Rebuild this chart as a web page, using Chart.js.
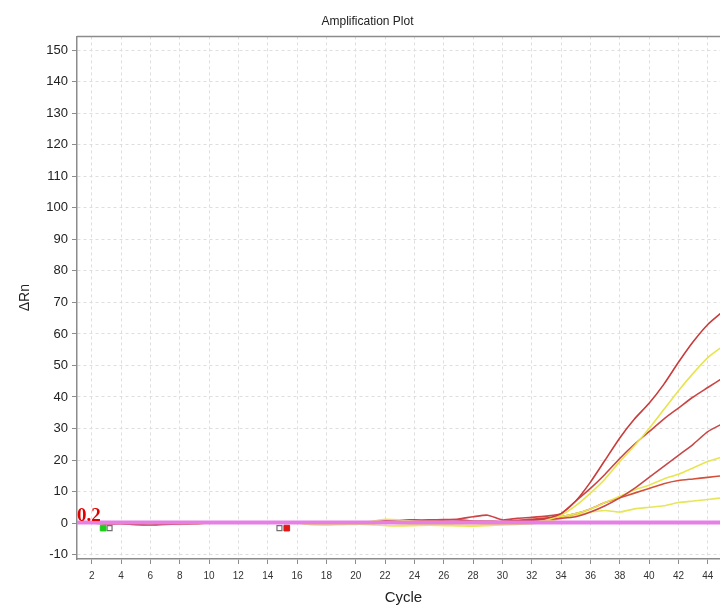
<!DOCTYPE html>
<html>
<head>
<meta charset="utf-8">
<title>Amplification Plot</title>
<script src="https://cdn.jsdelivr.net/npm/chart.js@4.4.1/dist/chart.umd.min.js"></script>
<style>
  html, body { margin: 0; padding: 0; background: #fff; overflow: hidden; }
  #wrap { width: 735px; height: 605px; }
</style>
</head>
<body>
<div id="wrap"><canvas id="ampChart" width="735" height="605"></canvas></div>
<script>
// Cycle numbers (x) and the delta Rn curves
const cycles = [1,2,3,4,5,6,7,8,9,10,11,12,13,14,15,16,17,18,19,20,21,22,23,24,25,26,27,28,29,30,31,32,33,34,35,36,37,38,39,40,41,42,43,44,45];

const redTop = [0,0,-0.3,-0.2,-0.5,-0.6,-0.4,-0.3,-0.2,0,0,0,0,0,0,0,0,0,0,0.1,0.2,0.3,0.3,0.2,0.2,0.3,0.3,0.4,0.5,0.4,0.6,0.9,1.5,3,7,13,20,27,33,38,44,51,57.5,63,67];
const yellowTop = [0,0,0,0,0,-0.2,-0.3,-0.4,-0.3,0,0,0,0,0,0,0,-0.3,-0.5,-0.3,0,0.5,1.2,1,0.6,0.5,0.4,0.2,0,-0.2,-0.3,-0.2,0.2,1,2.5,5.5,9.5,14,19.5,24.5,30,36,42,47.5,52.5,56];
const redMid = [0,0,0,0,0,0,0,0,0,0,0,0,0,0,0,0,0,0,0,0.2,0.4,0.8,1,1,1,1.1,1.3,2,2.5,1,1.5,1.8,2.2,3,7,11,15.5,20.5,25,29,33,36.5,40,43,46];
const redLow = [0,0,0,0,0,0,0,0,0,0,0,0,0,0,0,0,0,0,0,0,0,0.2,0.3,0.3,0.4,0.5,0.5,0.6,0.6,0.5,0.8,1,1.2,1.5,2,3.5,5.5,8,11,14.5,18,21.5,25,29,31.5];
const yellowMid = [0,0,0,-0.2,-0.3,-0.3,-0.2,-0.2,0,0,0,0,0,0,0,0,-0.5,-0.6,-0.5,-0.4,-0.2,0,-0.2,-0.4,-0.5,-0.5,-0.6,-0.7,-0.5,-0.4,-0.3,0.2,1,2,3,4.5,6.5,8.5,10.5,12,14,15.5,17.5,19.5,21];
const orangeLow = [0,0,0,0,0,0,0,0,0,0,0,0,0,0,0,0,0,0,0,0,0,0.2,0.4,0.6,0.8,1,1,0.6,0.2,0.4,0.8,1.2,1.6,2,3,4.5,6.5,8,9.5,11,12.5,13.5,14,14.5,15];
const yellowLow = [0,0,0,0,0,0,0,0,0,0,0,0,0,0,0,0,0,0,0,-0.3,-0.5,-0.8,-0.9,-0.8,-0.7,-0.8,-0.9,-1,-0.8,-0.6,-0.4,-0.2,0.5,1.5,2.5,3.5,4,3.5,4.5,5,5.5,6.5,7,7.5,8];

// Threshold and baseline start / end markers
const threshold = 0.2;
const baselineStart = [2.78, 3.22];
const baselineEnd = [14.8, 15.3];
const markerLevel = -1.6;

// Tick labels
const xTicks = [2,4,6,8,10,12,14,16,18,20,22,24,26,28,30,32,34,36,38,40,42,44];
const yTicks = [-10,0,10,20,30,40,50,60,70,80,90,100,110,120,130,140,150];

const seriesList = [
    { name: 'A1', values: redTop, color: '#c83c3c' },
    { name: 'A2', values: yellowTop, color: '#e8e44c' },
    { name: 'A3', values: redMid, color: '#cc4444' },
    { name: 'A4', values: redLow, color: '#c84848' },
    { name: 'A5', values: yellowMid, color: '#e8e650' },
    { name: 'A6', values: orangeLow, color: '#d4503a' },
    { name: 'A7', values: yellowLow, color: '#e6e65a' },
];

function toPoints(values) {
    return values.map((v, i) => ({ x: cycles[i], y: v }));
}

// Builds the datasets for the curves, the threshold and the markers
function buildDatasets() {
    const sets = seriesList.map(s => ({
        label: s.name,
        data: toPoints(s.values),
        borderColor: s.color,
        borderWidth: 1.6,
        pointRadius: 0,
        tension: 0.2,
        order: 2,
    }));
    sets.push({
        label: 'Threshold',
        data: [{ x: 1, y: threshold }, { x: 45.5, y: threshold }],
        borderColor: '#e680e6',
        borderWidth: 4,
        pointRadius: 0,
        order: 1,
    });
    sets.push({
        label: 'start',
        type: 'scatter',
        data: [{ x: baselineStart[0], y: markerLevel }],
        pointStyle: 'rect',
        pointRadius: 4,
        backgroundColor: '#1ccc1c',
        borderColor: '#1ccc1c',
        borderWidth: 1,
        order: 0,
    });
    sets.push({
        label: 'end',
        type: 'scatter',
        data: [{ x: baselineEnd[1], y: markerLevel }],
        pointStyle: 'rect',
        pointRadius: 4,
        backgroundColor: '#e01818',
        borderColor: '#e01818',
        borderWidth: 1,
        order: 0,
    });
    sets.push({
        label: 'boxes',
        type: 'scatter',
        data: [{ x: baselineStart[1], y: markerLevel }, { x: baselineEnd[0], y: markerLevel }],
        pointStyle: 'rect',
        pointRadius: 3.5,
        backgroundColor: '#ffffff',
        borderColor: '#707070',
        borderWidth: 1.2,
        order: 0,
    });
    return sets;
}

// Draws the frame on top of the plot and the red threshold value
const plotExtras = {
    id: 'plotExtras',
    afterDatasetsDraw(chart) {
        const ctx = chart.ctx;
        const area = chart.chartArea;
        const x = chart.scales.x;
        const y = chart.scales.y;
        ctx.save();
        ctx.strokeStyle = '#8c8c8c';
        ctx.lineWidth = 1.5;
        ctx.beginPath();
        ctx.moveTo(area.left, area.top);
        ctx.lineTo(area.right, area.top);
        ctx.stroke();
        ctx.fillStyle = '#e00000';
        ctx.font = 'bold 19px "Liberation Serif", "DejaVu Serif", serif';
        ctx.textAlign = 'left';
        ctx.textBaseline = 'alphabetic';
        ctx.fillText(String(threshold), x.getPixelForValue(1), y.getPixelForValue(threshold) - 1);
        ctx.restore();
    }
};

const gridStyle = {
    color: '#dedede',
    lineWidth: 1,
    tickColor: '#8c8c8c',
    tickLength: 5,
    tickBorderDash: [],
};

new Chart(document.getElementById('ampChart'), {
    type: 'line',
    data: { datasets: buildDatasets() },
    plugins: [plotExtras],
    options: {
        responsive: false,
        animation: false,
        layout: { padding: { left: 0, right: 0, top: 0, bottom: 0 } },
        plugins: {
            legend: { display: false },
            tooltip: { enabled: false },
            title: {
                display: true,
                text: 'Amplification Plot',
                color: '#222',
                font: { family: '"Liberation Sans", Arial, sans-serif', size: 12, weight: 'normal' },
                padding: { top: 14, bottom: 8 },
            },
        },
        scales: {
            x: {
                type: 'linear',
                min: 1,
                max: 45.5,
                afterBuildTicks: axis => { axis.ticks = xTicks.map(v => ({ value: v })); },
                afterFit: axis => { axis.height = 46; },
                grid: Object.assign({}, gridStyle),
                border: { color: '#8c8c8c', width: 1.5, dash: [3, 3] },
                ticks: {
                    color: '#333',
                    autoSkip: false,
                    maxRotation: 0,
                    padding: 6,
                    font: { family: '"Liberation Sans", Arial, sans-serif', size: 10 },
                },
                title: {
                    display: true,
                    text: 'Cycle',
                    color: '#222',
                    padding: { top: 0, bottom: -2 },
                    font: { family: '"Liberation Sans", Arial, sans-serif', size: 15 },
                },
            },
            y: {
                type: 'linear',
                min: -11.4,
                max: 154.4,
                afterBuildTicks: axis => { axis.ticks = yTicks.map(v => ({ value: v })); },
                afterFit: axis => { axis.width = 77; },
                grid: Object.assign({}, gridStyle),
                border: { color: '#8c8c8c', width: 1.5, dash: [3, 3] },
                ticks: {
                    color: '#222',
                    padding: 4,
                    font: { family: '"Liberation Sans", Arial, sans-serif', size: 13 },
                },
                title: {
                    display: true,
                    text: 'ΔRn',
                    color: '#222',
                    padding: { top: 17, bottom: 0 },
                    font: { family: '"Liberation Sans", Arial, sans-serif', size: 14 },
                },
            },
        },
    },
});
</script>
</body>
</html>
